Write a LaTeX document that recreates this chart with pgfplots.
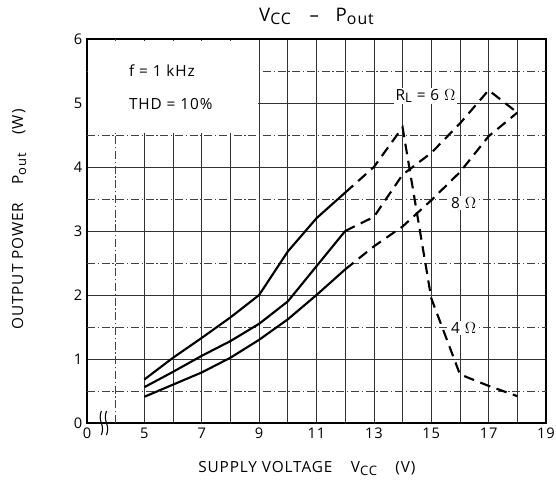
\documentclass[border=0pt]{standalone}
\usepackage{fontspec}
\setmainfont{Open Sans}[LetterSpace=6]
\usepackage{graphicx}
\usepackage{pgfplots}
\pgfplotsset{compat=1.18}
\newcommand\sub[1]{\raisebox{-0.35ex}{\scalebox{0.85}{#1}}}
\begin{document}
\begin{tikzpicture}
\begin{axis}[
  scale only axis, width=344.25pt, height=288pt,
  xmin=3, xmax=19, ymin=0, ymax=6,
  clip=false,
  xtick={3,5,7,...,19}, xticklabels={0,5,7,9,11,13,15,17,19},
  minor xtick={6,8,...,18},
  ytick={0,...,6},
  extra x ticks={4}, extra x tick labels={},
  extra y ticks={0.5,1.5,...,5.5}, extra y tick labels={},
  extra tick style={grid=major, major grid style={black!75, line width=0.5pt, dash pattern=on 6pt off 2pt on 1pt off 2pt}},
  grid=both,
  major grid style={black!80, line width=0.5pt},
  minor grid style={black!80, line width=0.5pt},
  major tick length=0pt, minor tick length=0pt,
  axis line style={line width=1pt},
  tick label style={font=\fontsize{11}{13}\selectfont},
  /pgf/number format/assume math mode=true,
  title={V\sub{CC}\hspace{1em}–\hspace{0.9em}P\sub{out}},
  title style={font=\fontsize{14}{16}\selectfont, yshift=1pt},
  xlabel={SUPPLY VOLTAGE\hspace{1.2em}V\sub{CC}\hspace{1.2em}(V)},
  ylabel={OUTPUT POWER\hspace{1.2em}P\sub{out}\hspace{1.2em}(W)},
  label style={font=\fontsize{11.5}{13}\selectfont},
  xlabel style={at={(axis description cs:0.479,-0.118)}, anchor=center},
  ylabel style={at={(axis description cs:-0.148,0.53)}, anchor=center},
]
\coordinate (bl) at (rel axis cs:0,0);
\coordinate (tr) at (rel axis cs:1,1);
\fill[white] (axis cs:3.03,4.53) rectangle (axis cs:8.97,5.97);
\node[anchor=west, font=\fontsize{11.5}{13}\selectfont] at (axis cs:4.3,5.5) {f = 1 kHz};
\node[anchor=west, font=\fontsize{11.5}{13}\selectfont] at (axis cs:4.3,4.98) {THD = 10\%};
% 4 ohm
\addplot[black, line width=1.6pt] coordinates {(5,0.68) (6,1.02) (7,1.33) (8,1.65) (9,2.0) (10,2.68) (11,3.2) (12,3.6)};
\addplot[black, line width=1.6pt, dash pattern=on 8pt off 5pt] coordinates {(12,3.6) (13,4.0) (14,4.62) (15,1.95) (16,0.76) (17,0.58) (18,0.42)};
% 6 ohm
\addplot[black, line width=1.6pt] coordinates {(5,0.56) (6,0.8) (7,1.05) (8,1.28) (9,1.55) (10,1.9) (11,2.45) (12,3.0)};
\addplot[black, line width=1.6pt, dash pattern=on 8pt off 5pt] coordinates {(12,3.0) (13,3.22) (14,3.88) (15,4.22) (16,4.68) (17,5.2) (18,4.85)};
% 8 ohm
\addplot[black, line width=1.6pt] coordinates {(5,0.41) (6,0.6) (7,0.79) (8,1.02) (9,1.3) (10,1.62) (11,2.0) (12,2.4)};
\addplot[black, line width=1.6pt, dash pattern=on 8pt off 5pt] coordinates {(12,2.4) (13,2.76) (14,3.07) (15,3.48) (16,3.92) (17,4.48) (18,4.85)};
\node[fill=white, inner sep=1pt, font=\fontsize{11.5}{13}\selectfont] at (axis cs:14.8,5.11) {R\sub{L} = 6 $\Omega$};
\node[fill=white, inner sep=1pt, font=\fontsize{11.5}{13}\selectfont] at (axis cs:16.13,3.44) {8 $\Omega$};
\node[fill=white, inner sep=1pt, font=\fontsize{11.5}{13}\selectfont] at (axis cs:16.13,1.48) {4 $\Omega$};
\draw[line width=0.8pt] ([yshift=-9pt]axis cs:3.5,0) to[out=70,in=-70] (axis cs:3.5,0) to[out=110,in=-110] ([yshift=9pt]axis cs:3.5,0);
\draw[line width=0.8pt] ([yshift=-9pt]axis cs:3.68,0) to[out=70,in=-70] (axis cs:3.68,0) to[out=110,in=-110] ([yshift=9pt]axis cs:3.68,0);
\end{axis}
\path (bl) ++(-65.25pt,-47.25pt) coordinate (A);
\path (tr) ++(7.5pt,29.25pt) coordinate (B);
\pgfresetboundingbox
\useasboundingbox (A) rectangle (B);
\end{tikzpicture}
\end{document}
